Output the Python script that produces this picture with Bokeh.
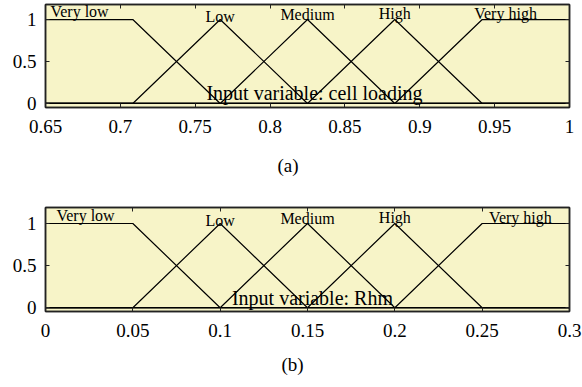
from bokeh.plotting import figure
from bokeh.models import Range1d, FixedTicker, LinearAxis, Label, Title
from bokeh.layouts import column
from bokeh.embed import file_html
from bokeh.resources import INLINE

# ---- data ----
mf_names = ["Very low", "Low", "Medium", "High", "Very high"]
cell_x = [0.65, 0.7083, 0.7667, 0.825, 0.8833, 0.9417, 1.0]
rhm_x = [0.0, 0.05, 0.10, 0.15, 0.20, 0.25, 0.30]
very_low_y = [1, 1, 0, 0, 0, 0, 0]
low_y = [0, 0, 1, 0, 0, 0, 0]
medium_y = [0, 0, 0, 1, 0, 0, 0]
high_y = [0, 0, 0, 0, 1, 0, 0]
very_high_y = [0, 0, 0, 0, 0, 1, 1]
mf_values = [very_low_y, low_y, medium_y, high_y, very_high_y]
cell_ticks = [0.65, 0.7, 0.75, 0.8, 0.85, 0.9, 0.95, 1.0]
rhm_ticks = [0.0, 0.05, 0.1, 0.15, 0.2, 0.25, 0.3]
y_ticks = [0, 0.5, 1]
cell_tick_labels = ["0.65", "0.7", "0.75", "0.8", "0.85", "0.9", "0.95", "1"]
rhm_tick_labels = ["0", "0.05", "0.1", "0.15", "0.2", "0.25", "0.3"]
y_tick_labels = ["0", "0.5", "1"]

FONT = "'Liberation Serif', serif"
BG = "#F7F4C8"
INK = "#222222"


def make_panel(xs, ticks, tick_labels, x0, x1, y0, y1, title, caption, borders, h,
               label_pos, title_pos, cap_offset, cap_standoff):
    p = figure(width=582, height=h, x_range=Range1d(x0, x1), y_range=Range1d(y0, y1),
               output_backend="svg", toolbar_location=None, x_axis_location=None,
               y_axis_location=None)
    p.min_border_left, p.min_border_right, p.min_border_top, p.min_border_bottom = borders
    p.background_fill_color = BG
    p.border_fill_color = "white"
    p.outline_line_color = INK
    p.outline_line_width = 1.5
    p.grid.visible = False

    for loc in ["below", "left", "above", "right"]:
        horiz = loc in ("below", "above")
        tk = ticks if horiz else y_ticks
        tl = tick_labels if horiz else y_tick_labels
        ax = LinearAxis()
        ax.ticker = FixedTicker(ticks=tk)
        ax.minor_tick_line_color = None
        ax.major_tick_in = 4
        ax.major_tick_out = 0
        ax.major_tick_line_color = INK
        ax.axis_line_color = INK
        ax.axis_line_width = 1.5
        if loc in ("below", "left"):
            ax.major_label_text_font = FONT
            ax.major_label_text_font_size = "19px"
            ax.major_label_text_color = "black"
            ax.major_label_standoff = 9 if loc == "left" else 12
            ax.major_label_overrides = dict(zip(tk, tl))
        else:
            ax.major_label_overrides = {t: "" for t in tk}
            ax.major_label_standoff = 0
        p.add_layout(ax, loc)

    for name, vals in zip(mf_names, mf_values):
        p.line(xs, vals, line_color="black", line_width=1.2)

    for name, (lx, ly, align) in zip(mf_names, label_pos):
        p.add_layout(Label(x=lx, y=ly, text=name, text_font=FONT, text_font_size="16px",
                           text_align=align, text_baseline="alphabetic", text_color="black"))

    p.add_layout(Label(x=title_pos[0], y=title_pos[1], text=title, text_font=FONT,
                       text_font_size="20px", text_align="center",
                       text_baseline="alphabetic", text_color="black"))
    cap = Title(text=caption, align="left", offset=cap_offset, text_font=FONT,
                text_font_size="19px", text_font_style="normal", text_color="black",
                standoff=cap_standoff)
    p.add_layout(cap, "below")
    return p


# top panel: frame px 45..573, y0 at 103, 84 px per unit
sx1 = (1.0 - 0.65) / 528.0
top_labels = [
    (0.65 + 5 * sx1, 1.09, "left"),
    (cell_x[2], 1.04, "center"),
    (cell_x[3], 1.06, "center"),
    (cell_x[4], 1.07, "center"),
    (0.65 + 432 * sx1, 1.07, "left"),
]
p1 = make_panel(cell_x, cell_ticks, cell_tick_labels, 0.65, 1.0, -0.048, 1.179,
                "Input variable: cell loading", "(a)", (45, 9, 4, 88), 195,
                top_labels, (0.65 + 271 * sx1, 0.12), 232, 35)

sx2 = 0.3 / 528.0
bot_labels = [
    (0.0 + 11 * sx2, 1.09, "left"),
    (rhm_x[2], 1.04, "center"),
    (rhm_x[3], 1.06, "center"),
    (rhm_x[4], 1.07, "center"),
    (0.0 + 447 * sx2, 1.07, "left"),
]
p2 = make_panel(rhm_x, rhm_ticks, rhm_tick_labels, 0.0, 0.3, -0.045, 1.19,
                "Input variable: Rhm", "(b)", (41, 13, 12, 76), 192,
                bot_labels, (269 * sx2, 0.11), 236, 25)

layout = column(p1, p2, spacing=0)
open("out.html", "w").write(file_html(layout, INLINE))
